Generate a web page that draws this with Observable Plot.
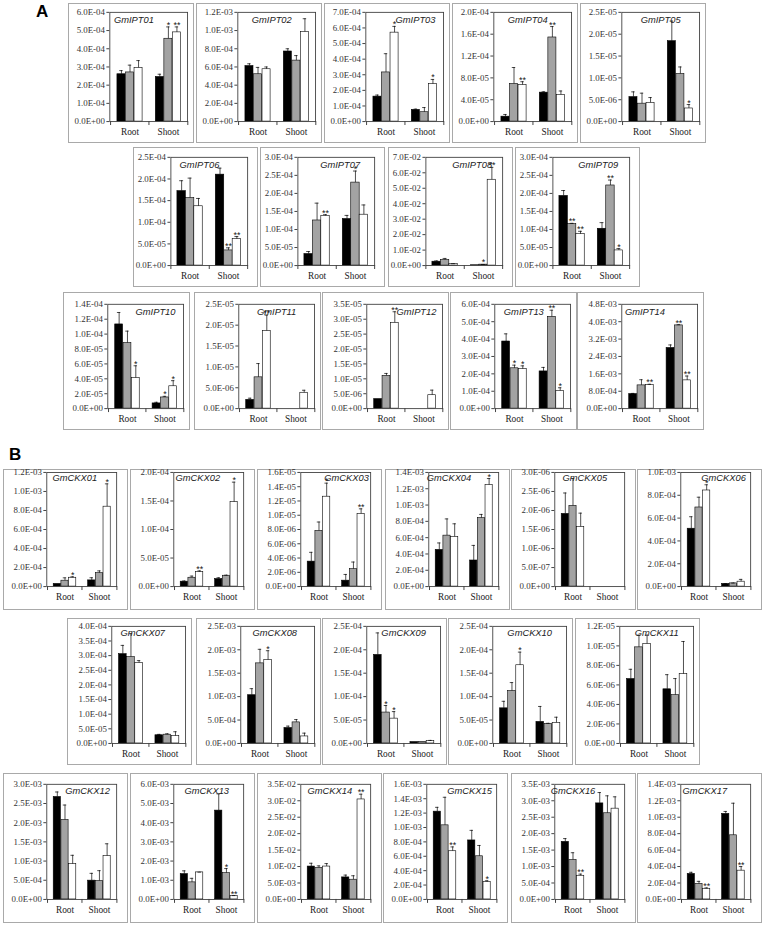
<!DOCTYPE html>
<html>
<head>
<meta charset="utf-8">
<script src="https://cdn.jsdelivr.net/npm/d3@7"></script>
<script src="https://cdn.jsdelivr.net/npm/@observablehq/plot@0.6"></script>
<style>
  html, body { margin: 0; padding: 0; background: #fff; }
  #root { position: relative; width: 765px; height: 927px; overflow: hidden; }
  .panel { position: absolute; border: 1.5px solid #a9a9a9; box-sizing: border-box; background: #fff; }
  .panel svg { position: absolute; left: -1.5px; top: -1.5px; overflow: visible; }
  .lbl { position: absolute; font-family: "Liberation Sans", Arial, sans-serif; font-weight: bold; font-size: 17px; color: #000; }
</style>
</head>
<body>
<div id="root"></div>
<script>
// ---------------- DATA ----------------
const tissues = ["Root", "Shoot"];

const genes = [
  "GmIPT01","GmIPT02","GmIPT03","GmIPT04","GmIPT05",
  "GmIPT06","GmIPT07","GmIPT08","GmIPT09",
  "GmIPT10","GmIPT11","GmIPT12","GmIPT13","GmIPT14",
  "GmCKX01","GmCKX02","GmCKX03","GmCKX04","GmCKX05","GmCKX06",
  "GmCKX07","GmCKX08","GmCKX09","GmCKX10","GmCKX11",
  "GmCKX12","GmCKX13","GmCKX14","GmCKX15","GmCKX16","GmCKX17"
];

// y-axis tick range (max label and step) for each gene
const yMax  = [6e-4,1.2e-3,7e-4,2e-4,2.5e-5, 2.5e-4,3e-4,7e-2,3e-4, 1.4e-4,2.5e-5,3.5e-5,6e-4,4.8e-3,
               1.2e-3,2e-4,1.6e-5,1.4e-3,3e-6,1e-3, 4e-4,2.5e-3,2.5e-4,2.5e-4,1.2e-5, 3e-3,6e-3,3.5e-2,1.6e-3,3.5e-3,1.4e-3];
const yStep = [1e-4,2e-4,1e-4,4e-5,5e-6, 5e-5,5e-5,1e-2,5e-5, 2e-5,5e-6,5e-6,1e-4,8e-4,
               2e-4,5e-5,2e-6,2e-4,5e-7,2e-4, 5e-5,5e-4,5e-5,5e-5,2e-6, 5e-4,1e-3,5e-3,2e-4,5e-4,2e-4];

// [Root, Shoot] means
const blackMean = [
  [2.6e-4,2.45e-4],[6.1e-4,7.7e-4],[1.6e-4,0.75e-4],[0.9e-5,5.3e-5],[5.6e-6,18.4e-6],
  [1.72e-4,2.1e-4],[0.32e-4,1.29e-4],[0.25e-2,0.02e-2],[1.93e-4,1.02e-4],
  [11.3e-5,0.7e-5],[0.21e-5,0],[0.32e-5,0],[3.86e-4,2.14e-4],[0.67e-3,2.79e-3],
  [2.8e-5,6.5e-5],[0.86e-5,1.32e-5],[3.5e-6,0.83e-6],[4.5e-4,3.2e-4],[1.91e-6,0],[5.07e-4,0.23e-4],
  [3.05e-4,0.28e-4],[1.03e-3,0.33e-3],[1.89e-4,0.03e-4],[0.75e-4,0.46e-4],[6.6e-6,5.55e-6],
  [2.67e-3,0.49e-3],[1.32e-3,4.63e-3],[1.0e-2,0.67e-2],[1.22e-3,0.82e-3],[1.75e-3,2.92e-3],[0.31e-3,1.04e-3]
];
const grayMean = [
  [2.7e-4,4.55e-4],[5.2e-4,6.7e-4],[3.15e-4,0.6e-4],[6.9e-5,15.4e-5],[4.1e-6,10.9e-6],
  [1.56e-4,0.35e-4],[1.25e-4,2.3e-4],[0.36e-2,0.06e-2],[1.15e-4,2.22e-4],
  [8.8e-5,1.5e-5],[0.75e-5,0],[1.1e-5,0],[2.32e-4,5.28e-4],[1.07e-3,3.83e-3],
  [6.2e-5,1.41e-4],[1.55e-5,1.9e-5],[7.8e-6,2.44e-6],[6.25e-4,8.4e-4],[2.12e-6,0],[6.93e-4,0.28e-4],
  [2.95e-4,0.3e-4],[1.71e-3,0.45e-3],[0.66e-4,0.035e-4],[1.12e-4,0.42e-4],[9.85e-6,4.95e-6],
  [2.07e-3,0.48e-3],[0.89e-3,1.37e-3],[0.96e-2,0.6e-2],[1.03e-3,0.6e-3],[1.2e-3,2.62e-3],[0.19e-3,0.78e-3]
];
const whiteMean = [
  [2.95e-4,4.9e-4],[5.75e-4,9.85e-4],[5.7e-4,2.4e-4],[6.7e-5,4.9e-5],[4.3e-6,3.0e-6],
  [1.37e-4,0.61e-4],[1.38e-4,1.41e-4],[0.1e-2,5.55e-2],[0.87e-4,0.42e-4],
  [4.1e-5,3.0e-5],[1.86e-5,0.38e-5],[2.88e-5,0.45e-5],[2.27e-4,1.02e-4],[1.09e-3,1.3e-3],
  [9.3e-5,8.4e-4],[2.55e-5,14.8e-5],[12.6e-6,10.2e-6],[6.1e-4,12.45e-4],[1.57e-6,0],[8.42e-4,0.43e-4],
  [2.75e-4,0.25e-4],[1.78e-3,0.15e-3],[0.53e-4,0.05e-4],[1.67e-4,0.44e-4],[10.2e-6,7.1e-6],
  [0.92e-3,1.13e-3],[1.41e-3,0.17e-3],[1.0e-2,3.04e-2],[0.67e-3,0.24e-3],[0.72e-3,2.76e-3],[0.13e-3,0.35e-3]
];

// [Root, Shoot] error bar lengths
const blackErr = [
  [0.2e-4,0.15e-4],[0.25e-4,0.3e-4],[0.1e-4,0.05e-4],[0.4e-5,0.15e-5],[1.2e-6,4.6e-6],
  [0.24e-4,0.15e-4],[0.07e-4,0.1e-4],[0.05e-2,0],[0.15e-4,0.17e-4],
  [1.6e-5,0.15e-5],[0.04e-5,0],[0,0],[0.44e-4,0.23e-4],[0.03e-3,0.14e-3],
  [0,2.8e-5],[0.12e-5,0.23e-5],[1.3e-6,0.87e-6],[0.85e-4,1.85e-4],[0.55e-6,0],[1.05e-4,0.03e-4],
  [0.3e-4,0.03e-4],[0.14e-3,0.04e-3],[0.47e-4,0],[0.15e-4,0.33e-4],[1.0e-6,1.5e-6],
  [0.13e-3,0.19e-3],[0.17e-3,0.87e-3],[0.1e-2,0.07e-2],[0.06e-3,0.14e-3],[0.1e-3,0.33e-3],[0.02e-3,0.03e-3]
];
const grayErr = [
  [0.4e-4,0.65e-4],[0.75e-4,0.55e-4],[1.2e-4,0.3e-4],[3.0e-5,2.0e-5],[2.4e-6,1.6e-6],
  [0.46e-4,0.06e-4],[0.48e-4,0.32e-4],[0.1e-2,0.01e-2],[0.02e-4,0.15e-4],
  [1.6e-5,0.15e-5],[0.33e-5,0],[0.08e-5,0],[0.18e-4,0.38e-4],[0.26e-3,0.03e-3],
  [3.0e-5,0.24e-4],[0.29e-5,0.1e-5],[1.25e-6,1.0e-6],[2.05e-4,0.45e-4],[0.72e-6,0],[0.9e-4,0.03e-4],
  [0.8e-4,0.03e-4],[0.3e-3,0.06e-3],[0.15e-4,0],[0.18e-4,0.01e-4],[1.25e-6,1.7e-6],
  [0.39e-3,0.27e-3],[0.21e-3,0.24e-3],[0.06e-2,0.12e-2],[0.39e-3,0.15e-3],[0.22e-3,0.53e-3],[0.03e-3,0.39e-3]
];
const whiteErr = [
  [0.4e-4,0.3e-4],[0.25e-4,1.45e-4],[0.4e-4,0.3e-4],[0.6e-5,0.7e-5],[1.2e-6,0.9e-6],
  [0.18e-4,0.06e-4],[0.03e-4,0.27e-4],[0.02e-2,0.8e-2],[0.08e-4,0.05e-4],
  [1.65e-5,0.75e-5],[0.38e-5,0.06e-5],[0.37e-5,0.17e-5],[0.19e-4,0.18e-4],[0.03e-3,0.2e-3],
  [1.0e-5,2.4e-4],[0.2e-5,3.5e-5],[1.9e-6,0.7e-6],[1.6e-4,0.8e-4],[0.36e-6,0],[0.5e-4,0.2e-4],
  [0.08e-4,0.15e-4],[0.2e-3,0.07e-3],[0.15e-4,0.015e-4],[0.28e-4,0.12e-4],[0.9e-6,3.35e-6],
  [0.23e-3,0.32e-3],[0.01e-3,0.03e-3],[0.09e-2,0.16e-2],[0.06e-3,0.02e-3],[0.05e-3,0.36e-3],[0.01e-3,0.05e-3]
];

// significance marks [Root, Shoot]
const grayStar = [
  ["","*"],["",""],["",""],["","**"],["",""],
  ["","**"],["","*"],["","*"],["**","**"],
  ["","*"],["",""],["",""],["*","**"],["","**"],
  ["",""],["",""],["",""],["",""],["",""],["",""],
  ["",""],["",""],["*",""],["",""],["",""],
  ["",""],["","*"],["",""],["",""],["",""],["",""]
];
const whiteStar = [
  ["","**"],["",""],["*","*"],["**",""],["","*"],
  ["","**"],["**",""],["","**"],["**","*"],
  ["*","*"],["**",""],["**",""],["*","*"],["**","**"],
  ["*","*"],["**","*"],["*","**"],["","*"],["",""],["*",""],
  ["",""],["*",""],["*",""],["*",""],["",""],
  ["",""],["","**"],["","**"],["**","*"],["**",""],["**","**"]
];

// ---------------- LAYOUT ----------------
const rowsLayout = [
  {y: 3,   h: 140, w: 126, xs: [68,196,324,452,580],       m: {l:42, r:5,  t:9,  b:20}, ty: 4},
  {y: 147, h: 140, w: 125, xs: [133,260,388,515],          m: {l:38, r:9,  t:10, b:20}, ty: 4},
  {y: 292, h: 138, w: 127, xs: [63,194,322,450,577],       m: {l:45, r:5,  t:12, b:20}, ty: 4},
  {y: 469, h: 141, w: 125, xs: [3,130,257,385,511,637],    m: {l:44, r:10, t:3,  b:22}, ty: 2},
  {y: 618, h: 147, w: 125, xs: [67,196,322,448,575],       m: {l:45, r:5,  t:8,  b:20}, ty: 3},
  {y: 773, h: 150, w: 125, xs: [3,130,257,383,511,637],    m: {l:44, r:10, t:11, b:22}, ty: 3}
];
// horizontal offset of each gene title from the plot centre (px)
const titleShift = [-15,-5,11,-5,0, -10,4,8,7, 10,0,12,-9,-15,
                    -7,-11,11,-15,-5,8, -6,-3,0,0,0, 6,-2,-6,8,-17,-11];

const series = [
  {mean: blackMean, err: blackErr, star: null,      fill: "#000000"},
  {mean: grayMean,  err: grayErr,  star: grayStar,  fill: "#a3a3a3"},
  {mean: whiteMean, err: whiteErr, star: whiteStar, fill: "#ffffff"}
];

function sci(v) {
  if (Math.abs(v) < 1e-15) return "0.0E+00";
  const e = Math.floor(Math.log10(Math.abs(v)) + 1e-9);
  const mant = v / Math.pow(10, e);
  const ae = Math.abs(e);
  return mant.toFixed(1) + "E" + (e < 0 ? "-" : "+") + (ae < 10 ? "0" : "") + ae;
}

const serif = "'Liberation Serif', 'Times New Roman', serif";
const sans = "'Liberation Sans', Arial, sans-serif";

function makePanel(i, W, H, m, ty) {
  const bw = (W - m.l - m.r) / 2;
  const barW = bw * 0.22;
  const inset = (bw - barW) / 2;
  const ticks = d3.range(0, yMax[i] + yStep[i] / 2, yStep[i]);
  const marks = [];
  series.forEach((s, k) => {
    const rows = tissues.map((t, j) => ({
      t, v: s.mean[i][j], e: s.err[i][j], star: s.star ? s.star[i][j] : ""
    }));
    const dx = (k - 1) * barW;
    marks.push(Plot.barY(rows.filter(r => r.v > 0), {
      x: "t", y: "v", fill: s.fill, stroke: "#000", strokeWidth: 0.6,
      insetLeft: inset, insetRight: inset, dx
    }));
    const er = rows.filter(r => r.v > 0 && r.e > 0);
    marks.push(Plot.ruleX(er, {x: "t", y1: "v", y2: r => r.v + r.e, dx, stroke: "#000", strokeWidth: 0.7}));
    marks.push(Plot.tickY(er, {
      x: "t", y: r => r.v + r.e, dx, stroke: "#000", strokeWidth: 0.7,
      insetLeft: bw / 2 - 2, insetRight: bw / 2 - 2
    }));
    marks.push(Plot.text(rows.filter(r => r.star), {
      x: "t", y: r => r.v + r.e, text: "star", dx, dy: 1, lineAnchor: "bottom",
      fontSize: 9, fontFamily: sans, fill: "#111"
    }));
  });
  return Plot.plot({
    width: W, height: H,
    marginLeft: m.l, marginRight: m.r, marginTop: m.t, marginBottom: m.b,
    style: {background: "transparent", overflow: "visible"},
    x: {domain: tissues, padding: 0, axis: null},
    y: {domain: [0, yMax[i]], axis: null},
    marks: [
      ...marks,
      Plot.frame({stroke: "#404040", strokeWidth: 0.9}),
      Plot.axisY({ticks, tickFormat: sci, tickSize: 3, tickPadding: 2, fontSize: 9,
                  fontFamily: serif, label: null, stroke: "#404040", fill: "#333"}),
      Plot.axisX({tickSize: 0, tickPadding: 7, fontSize: 9.5, fontFamily: serif, label: null, fill: "#222"}),
      Plot.axisX({ticks: tissues, tickSize: 4, tickFormat: () => "", dx: -bw / 2, label: null, stroke: "#404040"}),
      Plot.axisX({ticks: ["Shoot"], tickSize: 4, tickFormat: () => "", dx: bw / 2, label: null, stroke: "#404040"}),
      Plot.text([genes[i]], {frameAnchor: "top", dx: titleShift[i], dy: ty, lineAnchor: "top", fontStyle: "italic",
                 fontFamily: sans, fontSize: 9.5, fill: "#222"})
    ]
  });
}

const root = document.getElementById("root");
let gi = 0;
rowsLayout.forEach(row => {
  row.xs.forEach(x => {
    const div = document.createElement("div");
    div.className = "panel";
    div.style.left = x + "px";
    div.style.top = row.y + "px";
    div.style.width = row.w + "px";
    div.style.height = row.h + "px";
    div.appendChild(makePanel(gi, row.w, row.h, row.m, row.ty));
    root.appendChild(div);
    gi++;
  });
});

[["A", 36, 2], ["B", 9, 445]].forEach(([t, x, y]) => {
  const d = document.createElement("div");
  d.className = "lbl";
  d.textContent = t;
  d.style.left = x + "px";
  d.style.top = y + "px";
  root.appendChild(d);
});
</script>
</body>
</html>
